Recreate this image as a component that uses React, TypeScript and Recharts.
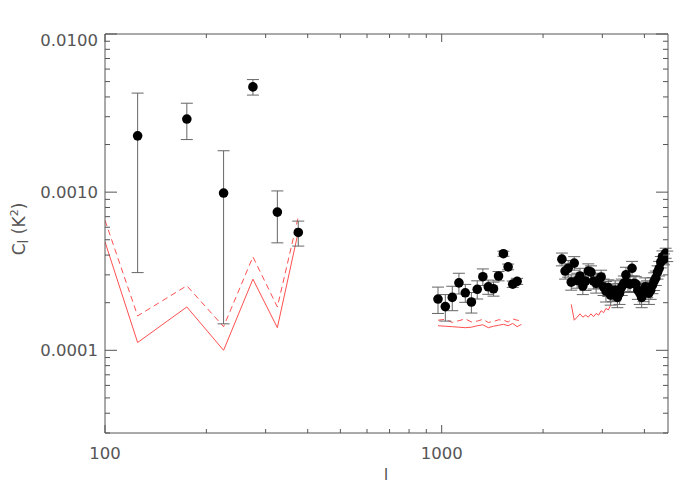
import { ComposedChart, Scatter, Line, XAxis, YAxis, ErrorBar } from "recharts";

// low-l bandpowers
const lowEll = [125, 175, 225, 275, 325, 375];
const lowCl = [0.00227, 0.0029, 0.000987, 0.00463, 0.000748, 0.000556];
const lowSigma = [0.00196, 0.00075, 0.00084, 0.00052, 0.00027, 0.0001];

// first high-l block
const midEll = [975, 1025, 1075, 1125, 1175, 1225, 1275, 1325, 1375, 1425, 1475, 1525, 1575, 1625, 1675];
const midCl = [
  0.000211, 0.000189, 0.000216, 0.000267, 0.000231, 0.000202, 0.000243, 0.000292, 0.000252, 0.000245, 0.000295,
  0.000408, 0.000337, 0.000262, 0.000273,
];
const midSigma = [
  0.00004, 0.000036, 0.000038, 0.00004, 0.00003, 0.00003, 0.000032, 0.000035, 0.000026, 0.000025, 0.00002, 0.000015,
  0.000014, 0.000012, 0.000012,
];

// second high-l block
const highEll = [
  2275, 2325, 2375, 2425, 2475, 2525, 2575, 2625, 2675, 2725, 2775, 2825, 2875, 2925, 2975, 3025, 3075, 3125, 3175,
  3225, 3275, 3325, 3375, 3425, 3475, 3525, 3575, 3625, 3675, 3725, 3775, 3825, 3875, 3925, 3975, 4025, 4075, 4125,
  4175, 4225, 4275, 4325, 4375, 4425, 4475, 4525, 4575, 4625, 4675,
];
const highCl = [
  0.000377, 0.000317, 0.00033, 0.00027, 0.000356, 0.000277, 0.000295, 0.000255, 0.000274, 0.000317, 0.000312,
  0.000274, 0.000265, 0.000277, 0.000291, 0.000252, 0.000237, 0.000249, 0.000223, 0.000233, 0.00024, 0.000216,
  0.00023, 0.000252, 0.000265, 0.0003, 0.000265, 0.000262, 0.00033, 0.000265, 0.000262, 0.00024, 0.00023, 0.000216,
  0.000233, 0.000252, 0.000245, 0.00023, 0.00024, 0.000258, 0.000274, 0.000287, 0.000312, 0.00033, 0.000362, 0.00039,
  0.000377, 0.000412, 0.000394,
];
const highSigma = [
  0.000035, 0.000035, 0.00004, 0.00003, 0.000035, 0.00003, 0.000035, 0.00003, 0.000035, 0.000035, 0.00003, 0.00003,
  0.000035, 0.00003, 0.00003, 0.00003, 0.000035, 0.00003, 0.00003, 0.00003, 0.000035, 0.00003, 0.000035, 0.00003,
  0.00003, 0.000035, 0.00003, 0.00003, 0.000035, 0.00003, 0.00003, 0.00003, 0.000035, 0.00003, 0.00003, 0.000035,
  0.00003, 0.000035, 0.00003, 0.00003, 0.000035, 0.00003, 0.00003, 0.000035, 0.00003, 0.000035, 0.00003, 0.00003,
  0.00003,
];

// noise curves (red)
const noiseLowEll = [100, 125, 175, 225, 275, 325, 375];
const noiseLowSolid = [0.000485, 0.000112, 0.000188, 0.0001, 0.000282, 0.000139, 0.000562];
const noiseLowDashed = [0.000664, 0.000165, 0.000256, 0.000141, 0.00039, 0.000188, 0.000698];

const noiseMidEll = [975, 1025, 1075, 1125, 1175, 1225, 1275, 1325, 1375, 1425, 1475, 1525, 1575, 1625, 1675, 1725];
const noiseMidSolid = [
  0.000143, 0.000142, 0.000141, 0.00014, 0.000139, 0.00014, 0.000143, 0.000145, 0.000139, 0.000142, 0.000144,
  0.000146, 0.000143, 0.000148, 0.000141, 0.000146,
];
const noiseMidDashed = [
  0.000155, 0.000157, 0.00015, 0.000154, 0.000158, 0.000151, 0.000153, 0.000157, 0.00015, 0.000152, 0.000156,
  0.000155, 0.000151, 0.000158, 0.000155, 0.000154,
];

const noiseHighEll = [2425, 2475, 2525, 2575, 2625, 2675, 2725, 2775, 2825, 2875, 2925, 2975, 3025, 3075, 3125, 3175];
const noiseHighSolid = [
  0.000195, 0.000155, 0.000162, 0.00017, 0.000162, 0.000167, 0.000162, 0.00017, 0.000163, 0.000171, 0.000167,
  0.000178, 0.000173, 0.000184, 0.00018, 0.000193,
];

// axes
const xTicks = [100, 200, 300, 400, 500, 600, 700, 800, 900, 1000, 2000, 3000, 4000];
const xLabelled = [100, 1000];
const yTicks = [
  0.00003, 0.00004, 0.00005, 0.00006, 0.00007, 0.00008, 0.00009, 0.0001, 0.0002, 0.0003, 0.0004, 0.0005, 0.0006,
  0.0007, 0.0008, 0.0009, 0.001, 0.002, 0.003, 0.004, 0.005, 0.006, 0.007, 0.008, 0.009, 0.01,
];
const yLabelled = [0.0001, 0.001, 0.01];

const RED = "#ff4f4f";
const AXIS = "#555";
const FONT = "DejaVu Sans";

const points = (ls: number[], vs: number[], es: number[]) => ls.map((l, i) => ({ l, v: vs[i], err: es[i] }));
const curve = (ls: number[], vs: number[]) => ls.map((l, i) => ({ l, v: vs[i] }));

const isMajor = (list: number[], v: number) => list.some((m) => Math.abs(m - v) / m < 1e-6);

function BottomTick({ x, y, payload }: any) {
  const major = isMajor(xLabelled, payload.value);
  return (
    <g>
      <line x1={x} y1={y} x2={x} y2={y - (major ? 8 : 4)} stroke={AXIS} />
      {major && (
        <text x={x} y={y + 26} textAnchor="middle" fontSize={16.5} fontFamily={FONT} fill={AXIS}>
          {payload.value}
        </text>
      )}
    </g>
  );
}

function TopTick({ x, y, payload }: any) {
  const major = isMajor(xLabelled, payload.value);
  return <line x1={x} y1={y} x2={x} y2={y + (major ? 8 : 4)} stroke={AXIS} />;
}

function LeftTick({ x, y, payload }: any) {
  const major = isMajor(yLabelled, payload.value);
  const top = isMajor([0.01], payload.value);
  return (
    <g>
      <line x1={x} y1={y} x2={x + (major ? 12 : 5)} y2={y} stroke={AXIS} />
      {major && (
        <text x={x - 7} y={y + 6 + (top ? 6 : 0)} textAnchor="end" fontSize={16.5} fontFamily={FONT} fill={AXIS}>
          {payload.value.toFixed(4)}
        </text>
      )}
    </g>
  );
}

function RightTick({ x, y, payload }: any) {
  const major = isMajor(yLabelled, payload.value);
  return <line x1={x} y1={y} x2={x - (major ? 12 : 5)} y2={y} stroke={AXIS} />;
}

const dotShape = (p: any) => <circle cx={p.cx} cy={p.cy} r={4.8} fill="#000" />;

export default function App() {
  return (
    <div style={{ position: "absolute", left: 0, top: 0, width: 700, height: 500, background: "#fff" }}>
      <ComposedChart width={700} height={500} margin={{ top: 33, right: 31, bottom: 17, left: 45 }}>
        <XAxis
          xAxisId="b"
          dataKey="l"
          type="number"
          scale="log"
          domain={[100, 4700]}
          allowDataOverflow
          ticks={xTicks}
          interval={0}
          height={50}
          tickSize={0}
          tickMargin={0}
          tick={BottomTick}
          axisLine={{ stroke: AXIS }}
        />
        <XAxis
          xAxisId="t"
          orientation="top"
          dataKey="l"
          type="number"
          scale="log"
          domain={[100, 4700]}
          allowDataOverflow
          ticks={xTicks}
          interval={0}
          height={1}
          tickSize={0}
          tickMargin={0}
          tick={TopTick}
          axisLine={{ stroke: AXIS }}
        />
        <YAxis
          yAxisId="l"
          type="number"
          scale="log"
          domain={[0.00003, 0.01]}
          allowDataOverflow
          ticks={yTicks}
          interval={0}
          width={60}
          tickSize={0}
          tickMargin={0}
          tick={LeftTick}
          axisLine={{ stroke: AXIS }}
        />
        <YAxis
          yAxisId="r"
          orientation="right"
          type="number"
          scale="log"
          domain={[0.00003, 0.01]}
          allowDataOverflow
          ticks={yTicks}
          interval={0}
          width={1}
          tickSize={0}
          tickMargin={0}
          tick={RightTick}
          axisLine={{ stroke: AXIS }}
        />

        <Line xAxisId="b" yAxisId="l" data={curve(noiseLowEll, noiseLowSolid)} dataKey="v" stroke={RED} strokeWidth={1} dot={false} isAnimationActive={false} />
        <Line xAxisId="b" yAxisId="l" data={curve(noiseLowEll, noiseLowDashed)} dataKey="v" stroke={RED} strokeWidth={1} strokeDasharray="6 4" dot={false} isAnimationActive={false} />
        <Line xAxisId="b" yAxisId="l" data={curve(noiseMidEll, noiseMidSolid)} dataKey="v" stroke={RED} strokeWidth={1} dot={false} isAnimationActive={false} />
        <Line xAxisId="b" yAxisId="l" data={curve(noiseMidEll, noiseMidDashed)} dataKey="v" stroke={RED} strokeWidth={1} strokeDasharray="6 4" dot={false} isAnimationActive={false} />
        <Line xAxisId="b" yAxisId="l" data={curve(noiseHighEll, noiseHighSolid)} dataKey="v" stroke={RED} strokeWidth={1} dot={false} isAnimationActive={false} />

        {[points(lowEll, lowCl, lowSigma), points(midEll, midCl, midSigma), points(highEll, highCl, highSigma)].map((d, i) => (
          <Scatter key={i} xAxisId="b" yAxisId="l" data={d} dataKey="v" shape={dotShape} isAnimationActive={false}>
            <ErrorBar dataKey="err" direction="y" width={6} stroke="#666" strokeWidth={1} isAnimationActive={false} />
          </Scatter>
        ))}
      </ComposedChart>
      <svg width={700} height={500} style={{ position: "absolute", left: 0, top: 0, pointerEvents: "none" }}>
        <text transform="rotate(-90 25 229)" x={25} y={229} textAnchor="middle" fontSize={17} fontFamily={FONT} fill={AXIS}>
          C<tspan dy={3} fontSize={14}>l</tspan>
          <tspan dy={-3}> (K</tspan>
          <tspan dy={-7} fontSize={11}>2</tspan>
          <tspan dy={7}>)</tspan>
        </text>
        <text x={386} y={480} textAnchor="middle" fontSize={16.5} fontFamily={FONT} fill={AXIS}>
          l
        </text>
      </svg>
    </div>
  );
}
